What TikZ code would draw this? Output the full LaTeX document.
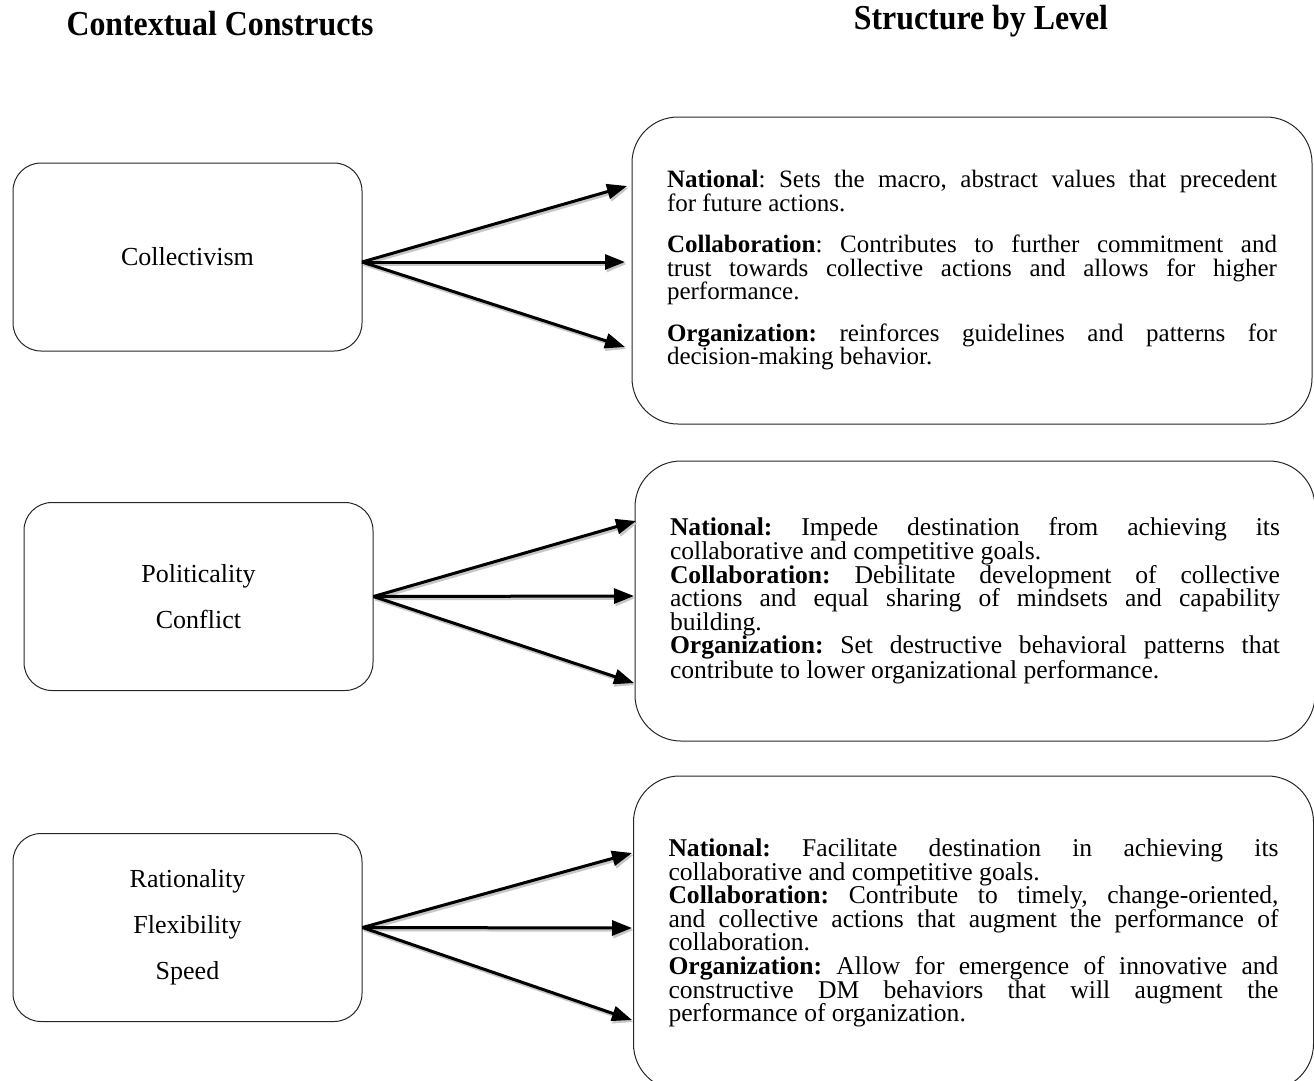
\documentclass[tikz,border=0pt]{standalone}
\usepackage{fontspec}
\setmainfont{Liberation Serif}
\newfontfamily\headserif[FakeStretch=0.91]{Liberation Serif}
\usetikzlibrary{arrows.meta}
\newcommand\parsetup{\frenchspacing\hyphenpenalty=10000\relax
  \exhyphenpenalty=10000\relax\tolerance=10000\relax}
\begin{document}
\begin{tikzpicture}[x=1pt,y=-1pt,
  construct/.style={draw=black!85, line width=1pt, rounded corners=28pt,
    minimum width=349pt, minimum height=188pt, inner sep=0pt,
    align=center, font=\fontsize{26}{46}\selectfont},
  levelbox/.style={draw=black!85, line width=1pt, rounded corners=46pt,
    inner xsep=35pt, inner ysep=0pt, text width=610pt, align=justify},
  widetext/.style={font=\fontsize{25}{23.5}\selectfont\parsetup},
  narrowtext/.style={font=\fontsize{25.6}{23.6}\selectfont\parsetup},
  heading/.style={font=\headserif\fontsize{35}{38}\selectfont\bfseries, inner sep=0pt},
  link/.style={line width=3pt, -{Triangle[length=20pt,width=15pt]}},
  linkshade/.style={line width=3.5pt, draw=black!22, -{Triangle[length=20pt,width=16pt]},
    transform canvas={shift={(1.5,2)}}}
]
\useasboundingbox (0,0) rectangle (1314,1080);

% column headings
\node[heading] (h1) at (220,24) {Contextual Constructs};
\node[heading] (h2) at (981,21) {Structure by Level};

% contextual constructs
\node[construct] (lb1) at (187.5,257) {Collectivism};
\node[construct] (lb2) at (198.5,596.5) {Politicality\\Conflict};
\node[construct] (lb3) at (187.5,927.5) {Rationality\\Flexibility\\Speed};

% structure by level
\node[levelbox, widetext, minimum height=307pt] (rb1) at (972,270.5) {%
\textbf{National}: Sets the macro, abstract values that precedent\linebreak for future actions.\\[18pt]
\textbf{Collaboration}: Contributes to further commitment and\linebreak trust towards collective actions and allows for higher\linebreak performance.\\[18pt]
\textbf{Organization:} reinforces guidelines and patterns for\linebreak decision-making behavior.};

\node[levelbox, narrowtext, minimum height=280pt] (rb2) at (975,601) {%
\textbf{National:} Impede destination from achieving its\linebreak collaborative and competitive goals.\\
\textbf{Collaboration:} Debilitate development of collective\linebreak actions and equal sharing of mindsets and capability\linebreak building.\\
\textbf{Organization:} Set destructive behavioral patterns that\linebreak contribute to lower organizational performance.};

\node[levelbox, narrowtext, minimum height=314pt] (rb3) at (973.5,933) {%
\textbf{National:} Facilitate destination in achieving its\linebreak collaborative and competitive goals.\\
\textbf{Collaboration:} Contribute to timely, change-oriented,\linebreak and collective actions that augment the performance of\linebreak collaboration.\\
\textbf{Organization:} Allow for emergence of innovative and\linebreak constructive DM behaviors that will augment the\linebreak performance of organization.};

% arrow sources and tips
\coordinate (s1) at (362,262);
\coordinate (s2) at (lb2.east);
\coordinate (s3) at (lb3.east);
\coordinate (t1a) at (627,186);
\coordinate (t1b) at (625,262);
\coordinate (t1c) at (625,347);
\coordinate (t2a) at (636,521);
\coordinate (t2b) at (634,596);
\coordinate (t2c) at (634,683);
\coordinate (t3a) at (632,853);
\coordinate (t3b) at (632,928);
\coordinate (t3c) at (632,1020);

\foreach \s/\t in {s1/t1a,s1/t1b,s1/t1c,s2/t2a,s2/t2b,s2/t2c,s3/t3a,s3/t3b,s3/t3c}{
  \draw[linkshade] (\s) -- (\t);
  \draw[link] (\s) -- (\t);
}
\end{tikzpicture}
\end{document}
